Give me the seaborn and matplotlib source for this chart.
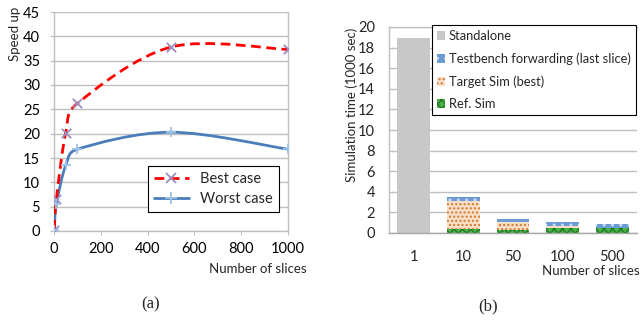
import numpy as np
import seaborn as sns
import matplotlib
matplotlib.use("Agg")
import matplotlib.pyplot as plt
from matplotlib.path import Path
from matplotlib.patches import PathPatch, Patch
from matplotlib.lines import Line2D

# speed-up chart (a)
slices = [1, 10, 50, 100, 500, 1000]
best_case = [0.3, 6.5, 20.2, 26.2, 37.8, 37.3]
worst_case = [0.3, 5.5, 13.5, 16.8, 20.3, 16.8]

# simulation time chart (b), in 1000 sec
bar_labels = ["1", "10", "50", "100", "500"]
standalone = [18.9, 0, 0, 0, 0]
ref_sim = [0, 0.38, 0.3, 0.49, 0.46]
target_sim = [0, 2.72, 0.72, 0.19, 0.03]
testbench = [0, 0.42, 0.37, 0.39, 0.38]

GRID = "#BFBFBF"
FONT = ["Lato", "DejaVu Sans"]


def smooth_path(ax, xs, ys):
    """excel-like smoothed line: bezier segments computed in pixel space"""
    pts = ax.transData.transform(np.column_stack([xs, ys]))
    n = len(pts)
    verts = [pts[0]]
    codes = [Path.MOVETO]
    for i in range(n - 1):
        p0 = pts[max(i - 1, 0)]
        p1 = pts[i]
        p2 = pts[i + 1]
        p3 = pts[min(i + 2, n - 1)]
        seg = np.linalg.norm(p2 - p1)
        t1 = p2 - p0
        t2 = p3 - p1
        f1 = 1 / 6
        if np.linalg.norm(t1) * f1 > seg / 2:
            f1 = seg / (2 * np.linalg.norm(t1))
        f2 = 1 / 6
        if np.linalg.norm(t2) * f2 > seg / 2:
            f2 = seg / (2 * np.linalg.norm(t2))
        verts += [p1 + t1 * f1, p2 - t2 * f2, p2]
        codes += [Path.CURVE4] * 3
    data_verts = ax.transData.inverted().transform(np.array(verts))
    return Path(data_verts, codes)


sns.set_style("white")
plt.rcParams["font.family"] = FONT
plt.rcParams["hatch.linewidth"] = 1.0

fig = plt.figure(figsize=(6.41, 3.22), dpi=100)

# ---------------- (a) ----------------
ax1 = fig.add_axes([54 / 641, 91 / 322, 234 / 641, 219 / 322])
ax1.set_xlim(0, 1000)
ax1.set_ylim(0, 45)
ax1.set_yticks(range(0, 46, 5))
ax1.set_xticks(range(0, 1001, 200))
ax1.yaxis.grid(True, color=GRID, linewidth=1)
ax1.set_axisbelow(True)
ax1.spines["top"].set_visible(False)
for s in ["left", "bottom", "right"]:
    ax1.spines[s].set_color(GRID)
    ax1.spines[s].set_linewidth(1)
ax1.tick_params(axis="both", direction="out", length=3, color=GRID,
                labelsize=10.5)
ax1.tick_params(axis="y", pad=7, left=True)
ax1.tick_params(axis="x", pad=5, bottom=True)
for lab in ax1.get_xticklabels() + ax1.get_yticklabels():
    lab.set_color("black")

best_path = smooth_path(ax1, slices, best_case)
worst_path = smooth_path(ax1, slices, worst_case)
ax1.add_patch(PathPatch(worst_path, fill=False, edgecolor="#4A7EBB",
                        linewidth=2, zorder=3))
ax1.add_patch(PathPatch(best_path, fill=False, edgecolor="#FF0000",
                        linewidth=2, linestyle=(0, (3.5, 2)), zorder=3))
sns.scatterplot(x=slices, y=best_case, ax=ax1, marker="x", color="#9C8CC0",
                s=45, linewidth=1.3, zorder=4, legend=False)
sns.scatterplot(x=slices, y=worst_case, ax=ax1, marker="+", color="#9DC3E6",
                s=60, linewidth=1.3, zorder=4, legend=False)

h1 = [Line2D([], [], color="#FF0000", lw=2, ls=(0, (3.5, 2)), marker="x",
             mec="#9C8CC0", ms=7, mew=1.3),
      Line2D([], [], color="#4A7EBB", lw=2, marker="+",
             mec="#9DC3E6", ms=8, mew=1.3)]
leg1 = ax1.legend(h1, ["Best case", "Worst case"], loc="upper right",
                  bbox_to_anchor=(279 / 641, 1 - 166 / 322),
                  bbox_transform=fig.transFigure, borderaxespad=0,
                  fancybox=False, framealpha=1, edgecolor="black",
                  fontsize=10.5, handlelength=2.4, borderpad=0.4,
                  labelspacing=0.45)
leg1.get_frame().set_linewidth(0.8)

fig.text(15 / 641, 1 - 34 / 322, "Speed up", rotation=90, ha="center",
         va="center", fontsize=9.5)
fig.text(307 / 641, 1 - 269 / 322, "Number of slices", ha="right",
         va="center", fontsize=9.5)
fig.text(151 / 641, 1 - 304 / 322, "(a)", ha="center", va="center",
         fontsize=12, family="Liberation Serif")

# ---------------- (b) ----------------
ax2 = fig.add_axes([389 / 641, 89 / 322, 248 / 641, 206 / 322])
xpos = np.arange(len(bar_labels))
w = 0.66
ax2.bar(xpos, standalone, width=w, color="#C8C8C8", linewidth=0, zorder=2)
ax2.bar(xpos, ref_sim, width=w, color="#4CB04C", edgecolor="#1F7A1F",
        hatch="xxxx", linewidth=0, zorder=2)
bottom2 = np.array(ref_sim)
ax2.bar(xpos, target_sim, width=w, bottom=bottom2, color="#F9DEC8",
        edgecolor="#D0782E", hatch="....", linewidth=0, zorder=2)
bottom3 = bottom2 + np.array(target_sim)
ax2.bar(xpos, testbench, width=w, bottom=bottom3, color="#6A9BD3",
        edgecolor="#C9DCF0", hatch="..", linewidth=0, zorder=2)

ax2.set_xlim(-0.5, len(bar_labels) - 0.5)
ax2.set_ylim(0, 20)
ax2.set_yticks(range(0, 21, 2))
ax2.set_xticks(xpos)
ax2.set_xticklabels(bar_labels)
ax2.yaxis.grid(True, color=GRID, linewidth=1, zorder=0)
ax2.set_axisbelow(True)
ax2.spines["right"].set_visible(False)
for s in ["left", "bottom", "top"]:
    ax2.spines[s].set_color(GRID)
    ax2.spines[s].set_linewidth(1)
ax2.spines["bottom"].set_color("#A6A6A6")
ax2.tick_params(axis="both", length=0, labelsize=10.5)
ax2.tick_params(axis="y", pad=10)
ax2.tick_params(axis="x", pad=12)

h2 = [Patch(facecolor="#C8C8C8", linewidth=0),
      Patch(facecolor="#6A9BD3", edgecolor="#C9DCF0", hatch="..", linewidth=0),
      Patch(facecolor="#F9DEC8", edgecolor="#D0782E", hatch="....", linewidth=0),
      Patch(facecolor="#4CB04C", edgecolor="#1F7A1F", hatch="xxxx", linewidth=0)]
leg2 = ax2.legend(h2, ["Standalone", "Testbench forwarding (last slice)",
                       "Target Sim (best)", "Ref. Sim"],
                  loc="upper right", bbox_to_anchor=(636 / 641, 1 - 25 / 322),
                  bbox_transform=fig.transFigure, borderaxespad=0,
                  fancybox=False, framealpha=1, edgecolor="black",
                  fontsize=9.3, handlelength=0.65, handleheight=0.65,
                  handletextpad=0.3, borderpad=0.4, labelspacing=0.8)
leg2.get_frame().set_linewidth(0.8)

fig.text(352 / 641, 1 - 105 / 322, "Simulation time (1000 sec)", rotation=90,
         ha="center", va="center", fontsize=9.5)
fig.text(640 / 641, 1 - 271 / 322, "Number of slices", ha="right",
         va="center", fontsize=9.5)
fig.text(488 / 641, 1 - 306 / 322, "(b)", ha="center", va="center",
         fontsize=12, family="Liberation Serif")

fig.savefig("out.png", dpi=100)
